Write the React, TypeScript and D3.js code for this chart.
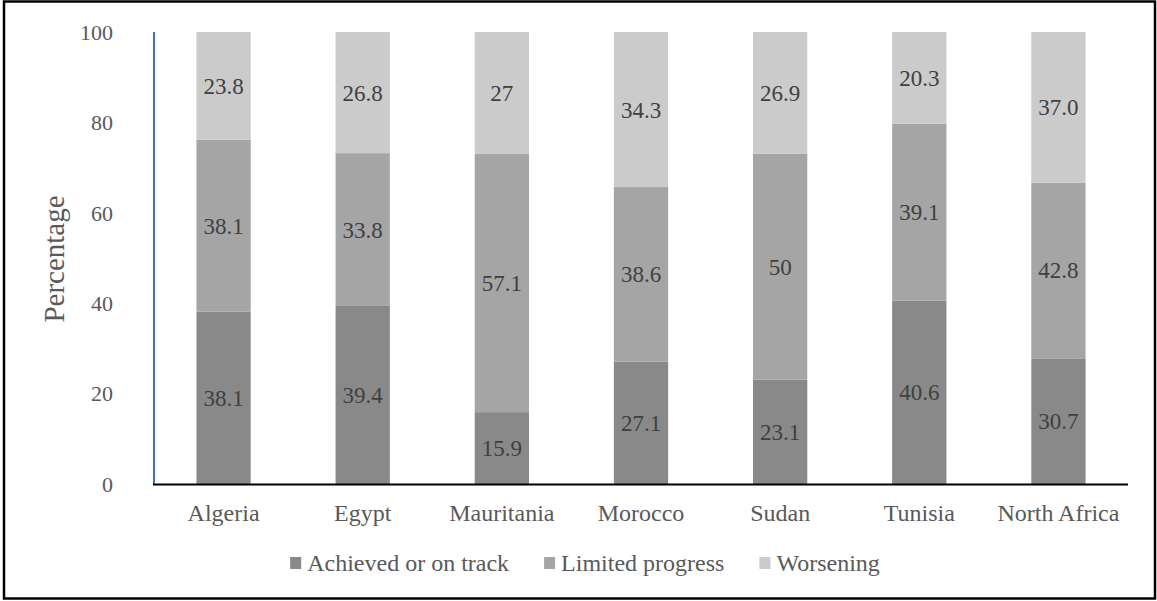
import { useEffect, useRef } from 'react';
import * as d3 from 'd3';

const countries = ['Algeria', 'Egypt', 'Mauritania', 'Morocco', 'Sudan', 'Tunisia', 'North Africa'];
const seriesNames = ['Achieved or on track', 'Limited progress', 'Worsening'];
// bar heights as drawn (North Africa is normalised to 100)
const achieved = [38.1, 39.4, 15.9, 27.1, 23.1, 40.6, 27.8];
const limited = [38.1, 33.8, 57.1, 38.6, 50, 39.1, 38.9];
const worsening = [23.8, 26.8, 27, 34.3, 26.9, 20.3, 33.3];
// labels as printed on the bars
const achievedLabels = ['38.1', '39.4', '15.9', '27.1', '23.1', '40.6', '30.7'];
const limitedLabels = ['38.1', '33.8', '57.1', '38.6', '50', '39.1', '42.8'];
const worseningLabels = ['23.8', '26.8', '27', '34.3', '26.9', '20.3', '37.0'];
const yTicks = [0, 20, 40, 60, 80, 100];

const colors = ['#898989', '#a5a5a5', '#cbcbcb'];
const font = '"Times New Roman", "Liberation Serif", serif';

const App = () => {
  const svgRef = useRef<SVGSVGElement>(null!);

  useEffect(() => {
    const width = 1157;
    const height = 601;
    const left = 154;
    const right = 1128;
    const top = 32;
    const bottom = 484;

    const svg = d3.select(svgRef.current).attr('width', width).attr('height', height);

    svg
      .append('rect')
      .attr('x', 0)
      .attr('y', 0)
      .attr('width', width)
      .attr('height', height)
      .attr('fill', '#fff');

    // outer frame
    svg
      .append('rect')
      .attr('x', 4)
      .attr('y', 1.5)
      .attr('width', 1151)
      .attr('height', 597)
      .attr('fill', 'none')
      .attr('stroke', '#000')
      .attr('stroke-width', 2.5);

    const x = d3.scaleBand().domain(countries).range([left, right]).paddingInner(0.61).paddingOuter(0.305);
    const y = d3.scaleLinear().domain([0, 100]).range([bottom, top]);

    const rows = countries.map((c, i) => ({
      country: c,
      a: achieved[i],
      l: limited[i],
      w: worsening[i],
    }));
    const labels = [achievedLabels, limitedLabels, worseningLabels];
    const stack = d3.stack<any>().keys(['a', 'l', 'w'])(rows);

    stack.forEach((layer, si) => {
      const g = svg.append('g');
      g.selectAll('rect')
        .data(layer)
        .enter()
        .append('rect')
        .attr('x', d => x(d.data.country)!)
        .attr('width', x.bandwidth())
        .attr('y', d => y(Math.min(d[1], 100)))
        .attr('height', d => y(d[0]) - y(Math.min(d[1], 100)))
        .attr('fill', colors[si]);
      g.selectAll('text')
        .data(layer)
        .enter()
        .append('text')
        .attr('x', d => x(d.data.country)! + x.bandwidth() / 2)
        .attr('y', d => (y(d[0]) + y(Math.min(d[1], 100))) / 2)
        .attr('dy', '0.35em')
        .attr('text-anchor', 'middle')
        .attr('font-family', font)
        .attr('font-size', 23)
        .attr('fill', '#404040')
        .text((d, i) => labels[si][i]);
    });

    // y axis
    svg
      .append('line')
      .attr('x1', left)
      .attr('x2', left)
      .attr('y1', top)
      .attr('y2', bottom)
      .attr('stroke', '#4472c4')
      .attr('stroke-width', 2);

    svg
      .append('g')
      .selectAll('text')
      .data(yTicks)
      .enter()
      .append('text')
      .attr('x', 113)
      .attr('y', d => y(d))
      .attr('dy', '0.35em')
      .attr('text-anchor', 'end')
      .attr('font-family', font)
      .attr('font-size', 22)
      .attr('fill', '#595959')
      .text(d => d);

    // x axis
    svg
      .append('line')
      .attr('x1', left - 1)
      .attr('x2', right)
      .attr('y1', bottom + 0.5)
      .attr('y2', bottom + 0.5)
      .attr('stroke', '#000')
      .attr('stroke-width', 2);

    svg
      .append('g')
      .selectAll('text')
      .data(countries)
      .enter()
      .append('text')
      .attr('x', d => x(d)! + x.bandwidth() / 2)
      .attr('y', 521)
      .attr('text-anchor', 'middle')
      .attr('font-family', font)
      .attr('font-size', 24)
      .attr('fill', '#595959')
      .text(d => d);

    svg
      .append('text')
      .attr('transform', 'translate(54,259) rotate(-90)')
      .attr('dy', '0.35em')
      .attr('text-anchor', 'middle')
      .attr('font-family', font)
      .attr('font-size', 29)
      .attr('fill', '#595959')
      .text('Percentage');

    // legend
    const legend = svg.append('g');
    const items = legend
      .selectAll('g')
      .data(seriesNames)
      .enter()
      .append('g');
    items
      .append('rect')
      .attr('width', 11)
      .attr('height', 12)
      .attr('y', 557)
      .attr('fill', (d, i) => colors[i]);
    items
      .append('text')
      .attr('x', 17)
      .attr('y', 563)
      .attr('dy', '0.35em')
      .attr('font-family', font)
      .attr('font-size', 24)
      .attr('fill', '#595959')
      .text(d => d);

    let pos = 0;
    const offsets: number[] = [];
    items.each(function () {
      offsets.push(pos);
      const w = (this as SVGGElement).querySelector('text')!.getComputedTextLength();
      pos += 17 + w + 35;
    });
    const total = pos - 35;
    const start = 585 - total / 2;
    items.attr('transform', (d, i) => `translate(${start + offsets[i]},0)`);

    return () => {
      svgRef.current.innerHTML = '';
    };
  }, []);

  return <svg ref={svgRef} style={{ position: 'absolute', left: 0, top: 0 }}></svg>;
};

export default App;
